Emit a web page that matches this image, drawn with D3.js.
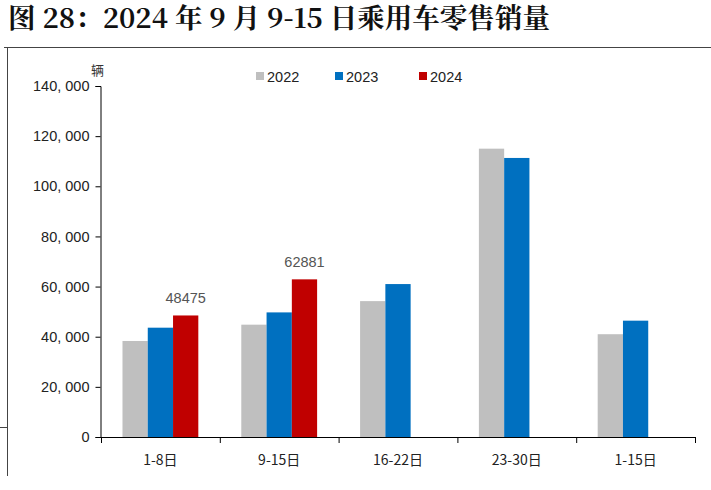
<!DOCTYPE html>
<html><head><meta charset="utf-8">
<script src="https://cdn.jsdelivr.net/npm/d3@7"></script>
<style>body{margin:0;background:#fff}</style>
</head><body>
<svg id="chart" width="711" height="490"></svg>
<script>
const categories = ["1-8日", "9-15日", "16-22日", "23-30日", "1-15日"];
const years = ["2022", "2023", "2024"];
const colors = ["#bfbfbf", "#0070c0", "#c00000"];
const v2022 = [38300, 44800, 54200, 115000, 41000];
const v2023 = [43600, 49700, 61000, 111300, 46400];
const v2024 = [48475, 62881, null, null, null];
const yTicks = [0, 20000, 40000, 60000, 80000, 100000, 120000, 140000];

const svg = d3.select("#chart");
const font = "'Liberation Sans', Arial, sans-serif";

svg.append("text").attr("x", 8).attr("y", 28)
  .attr("font-family", "'Noto Serif CJK SC','Noto Sans CJK SC',serif")
  .attr("font-weight", "bold").attr("font-size", 27).attr("fill", "#111")
  .attr("textLength", 542).attr("lengthAdjust", "spacingAndGlyphs")
  .text("图 28：2024 年 9 月 9-15 日乘用车零售销量");

svg.append("line").attr("x1", 4).attr("x2", 711).attr("y1", 47.5).attr("y2", 47.5).attr("stroke", "#444");
svg.append("line").attr("x1", 7.5).attr("x2", 7.5).attr("y1", 47).attr("y2", 476).attr("stroke", "#444");
svg.append("line").attr("x1", 0).attr("x2", 7).attr("y1", 427.5).attr("y2", 427.5).attr("stroke", "#444");

const x = d3.scaleBand().domain(categories).range([101, 695]);
const xi = d3.scaleBand().domain(years).range([0, x.bandwidth()]).paddingInner(0).paddingOuter(0.85);
const y = d3.scaleLinear().domain([0, 140000]).range([437, 86]);

const ax = svg.append("g").attr("transform", "translate(0,437)")
  .call(d3.axisBottom(x).tickSize(6).tickFormat(""));
ax.selectAll(".tick").remove();
ax.select(".domain").attr("stroke", "#000");
ax.selectAll(".edge").data(x.domain().map(d => x(d)).concat([695]))
  .enter().append("line").attr("x1", d => d + 0.5).attr("x2", d => d + 0.5)
  .attr("y1", 0).attr("y2", 6).attr("stroke", "#000");
ax.selectAll(".lbl").data(categories).enter().append("text")
  .attr("x", d => x(d) + x.bandwidth() / 2).attr("y", 28)
  .attr("text-anchor", "middle").attr("font-family", "'Noto Sans CJK SC'," + font)
  .attr("font-size", 14).attr("fill", "#222").text(d => d);

const ay = svg.append("g").attr("transform", "translate(100.5,0)")
  .call(d3.axisLeft(y).tickValues(yTicks).tickSize(5).tickFormat(d => d === 0 ? "0" : d3.format(",")(d).replace(",", ", ")));
ay.select(".domain").attr("stroke", "#000");
ay.selectAll(".tick line").attr("stroke", "#000");
ay.selectAll("text").attr("font-family", font).attr("font-size", 14.5).attr("fill", "#222").attr("x", -11);

svg.append("text").attr("x", 91).attr("y", 75).attr("font-family", "'Noto Sans CJK SC'")
  .attr("font-size", 13).attr("fill", "#333").text("辆");

const series = [v2022, v2023, v2024];
categories.forEach((c, i) => {
  series.forEach((s, k) => {
    if (s[i] == null) return;
    svg.append("rect").attr("x", x(c) + xi(years[k])).attr("width", xi.bandwidth())
      .attr("y", y(s[i])).attr("height", y(0) - y(s[i])).attr("fill", colors[k]);
  });
  if (v2024[i] != null) {
    svg.append("text").attr("x", x(c) + xi("2024") + xi.bandwidth() / 2).attr("y", y(v2024[i]) - 12)
      .attr("text-anchor", "middle").attr("font-family", font).attr("font-size", 14.5).attr("fill", "#555")
      .text(v2024[i]);
  }
});

const lg = svg.append("g");
const lx = [256, 335, 419];
years.forEach((yr, k) => {
  lg.append("rect").attr("x", lx[k]).attr("y", 72).attr("width", 8).attr("height", 8).attr("fill", colors[k]);
  lg.append("text").attr("x", lx[k] + 11).attr("y", 82).attr("font-family", font)
    .attr("font-size", 14.5).attr("fill", "#222").text(yr);
});
</script>
</body></html>
